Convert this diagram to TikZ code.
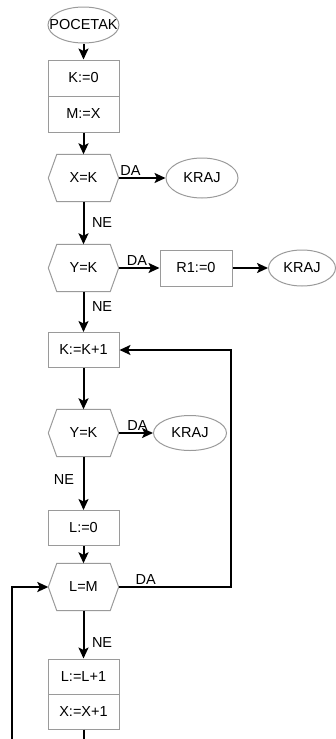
\documentclass[tikz,border=0pt]{standalone}
\usepackage{fontspec}
\setmainfont{Liberation Sans}
\usetikzlibrary{shapes.geometric,arrows.meta}
\definecolor{flowGray}{HTML}{9A9A9A}
\newcommand{\flowHex}[1]{\draw[flowGray, line width=1pt] (#1.west) -- ([xshift=8.5pt]#1.north west) -- ([xshift=-8.5pt]#1.north east) -- (#1.east) -- ([xshift=-8.5pt]#1.south east) -- ([xshift=8.5pt]#1.south west) -- cycle;}

\begin{document}
\begin{tikzpicture}[x=1pt,y=-1pt, font=\fontsize{14.5}{16}\selectfont,
  flowBox/.style={draw=flowGray, line width=1pt, minimum width=71pt, minimum height=36pt, inner sep=0pt},
  flowEnd/.style={ellipse, draw=flowGray, line width=1pt, inner sep=0pt},
  flowTest/.style={minimum width=70pt, minimum height=47pt, inner sep=0pt},
  flowArrow/.style={line width=2pt, -{Stealth[length=11pt,width=10pt,inset=2.5pt]}},
  flowLabel/.style={inner sep=1.5pt}]
\useasboundingbox (0,0) rectangle (336,739);
% start and initialisation
\node[flowEnd, minimum width=71pt, minimum height=36pt] (start) at (83.5,25) {\makebox[0pt]{POCETAK}};
\node[flowBox] (kinit) at (83.5,78) {K:=0};
\node[flowBox] (minit) at (83.5,114) {M:=X};
% first tests
\node[flowTest] (xk) at (83.5,178) {X=K};
\flowHex{xk}
\node[flowEnd, minimum width=72pt, minimum height=40pt] (kraj1) at (202,178) {KRAJ};
\node[flowTest] (yk1) at (83.5,268) {Y=K};
\flowHex{yk1}
\node[flowBox, minimum width=72pt] (rone) at (196,268) {R1:=0};
\node[flowEnd, minimum width=67pt, minimum height=36pt] (kraj2) at (302,268) {KRAJ};
% outer loop
\node[flowBox, minimum height=35pt] (kinc) at (83.5,350) {K:=K+1};
\node[flowTest] (yk2) at (83.5,433) {Y=K};
\flowHex{yk2}
\node[flowEnd, minimum width=73pt, minimum height=35pt] (kraj3) at (190,433) {KRAJ};
\node[flowBox, minimum height=35pt] (lzero) at (83.5,528) {L:=0};
% inner loop
\node[flowTest] (lm) at (83.5,587) {L=M};
\flowHex{lm}
\node[flowBox, minimum height=35pt] (linc) at (83.5,676.5) {L:=L+1};
\node[flowBox, minimum height=35pt] (xinc) at (83.5,711.5) {X:=X+1};
\coordinate (loopR) at (231,587);
\coordinate (loopL) at (12,739);
\coordinate (bottomExit) at (83.5,739);
% connectors
\draw[flowArrow] (start.south) -- (kinit.north);
\draw[flowArrow] (minit.south) -- (xk.north);
\draw[flowArrow] (xk.east) -- node[flowLabel, above, pos=0.25] {DA} (kraj1.west);
\draw[flowArrow] (xk.south) -- node[flowLabel, right, pos=0.49, xshift=6pt] {NE} (yk1.north);
\draw[flowArrow] (yk1.east) -- node[flowLabel, above, pos=0.45] {DA} (rone.west);
\draw[flowArrow] (rone.east) -- (kraj2.west);
\draw[flowArrow] (yk1.south) -- node[flowLabel, right, pos=0.37, xshift=6pt] {NE} (kinc.north);
\draw[flowArrow] (kinc.south) -- (yk2.north);
\draw[flowArrow] (yk2.east) -- node[flowLabel, above, pos=0.55] {DA} (kraj3.west);
\draw[flowArrow] (yk2.south) -- node[flowLabel, left, pos=0.43, xshift=-7pt] {NE} (lzero.north);
\draw[flowArrow] (lzero.south) -- (lm.north);
\draw[flowArrow] (lm.east) -- node[flowLabel, above, pos=0.24] {DA} (loopR) |- (kinc.east);
\draw[flowArrow] (lm.south) -- node[flowLabel, right, pos=0.67, xshift=6pt] {NE} (linc.north);
\draw[line width=2pt] (xinc.south) -- (bottomExit);
\draw[flowArrow] (loopL) |- (lm.west);
\end{tikzpicture}
\end{document}
